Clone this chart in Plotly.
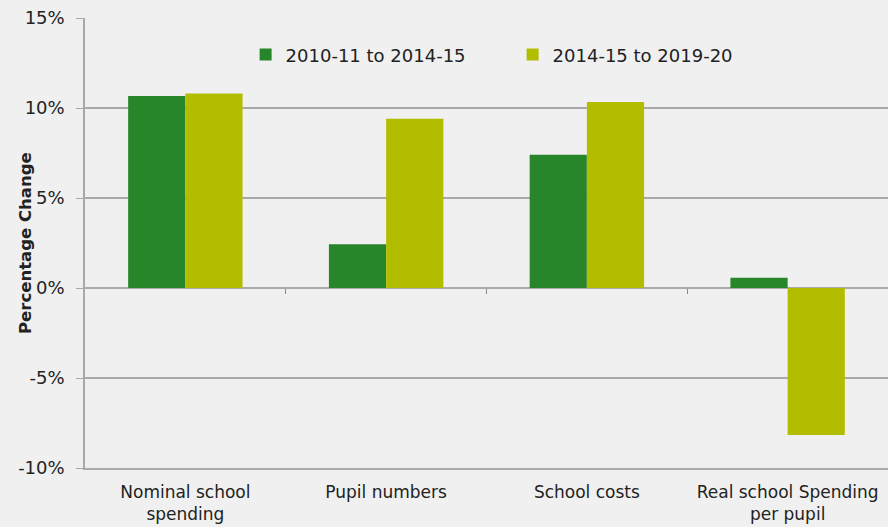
import plotly.graph_objects as go

categories = ["Nominal school<br>spending", "Pupil numbers", "School costs", "Real school Spending<br>per pupil"]
series_names = ["2010-11 to 2014-15", "2014-15 to 2019-20"]
values_2010_2015 = [10.67, 2.43, 7.4, 0.57]
values_2014_2020 = [10.8, 9.4, 10.33, -8.17]
y_ticks = [-10, -5, 0, 5, 10, 15]
y_tick_labels = ["-10%", "-5%", "0%", "5%", "10%", "15%"]
y_title = "Percentage Change"

colors = ["#27852a", "#b3bd00"]
FONT = "DejaVu Sans"
BG = "#f0f0f0"
GRID = "#a9a9a9"
TXT = "#222222"

fig = go.Figure()
fig.add_trace(go.Bar(x=list(range(len(categories))), y=values_2010_2015, name=series_names[0],
                     marker=dict(color=colors[0], line=dict(width=0))))
fig.add_trace(go.Bar(x=list(range(len(categories))), y=values_2014_2020, name=series_names[1],
                     marker=dict(color=colors[1], line=dict(width=0))))

n = len(categories)
L, R, T, B = 85, 0, 18, 59
W, H = 888, 527
fig.update_layout(
    width=W, height=H,
    paper_bgcolor=BG, plot_bgcolor=BG,
    margin=dict(l=L, r=R, t=T, b=B),
    barmode="group", bargap=0.43, bargroupgap=0,
    font=dict(family=FONT, size=17, color=TXT),
    showlegend=True,
    legend=dict(orientation="h", x=0.2, y=0.918, xanchor="left", yanchor="middle",
                bgcolor="rgba(0,0,0,0)", font=dict(size=18, color=TXT),
                entrywidth=222, itemwidth=30, traceorder="normal"),
    xaxis=dict(range=[-0.5, n - 0.5], tickvals=list(range(n)), ticktext=categories,
               showgrid=False, zeroline=False, showline=True, linecolor=GRID, linewidth=1.5,
               ticks="", automargin=False, ticklabelstandoff=8,
               tickfont=dict(size=17, color=TXT)),
    xaxis2=dict(overlaying="x", anchor="free", position=(0 - y_ticks[0]) / (y_ticks[-1] - y_ticks[0]),
                range=[-0.5, n - 0.5], tickvals=[i + 0.5 for i in range(n - 1)],
                showticklabels=False, ticks="outside", ticklen=5, tickwidth=1, tickcolor="#888888",
                showgrid=False, zeroline=False, showline=False, automargin=False),
    yaxis=dict(range=[y_ticks[0], y_ticks[-1]], tickvals=y_ticks, ticktext=y_tick_labels,
               showgrid=True, gridcolor=GRID, gridwidth=1.5,
               zeroline=True, zerolinecolor=GRID, zerolinewidth=1.5,
               showline=True, linecolor=GRID, linewidth=1.5,
               ticks="outside", ticklen=7, tickcolor=GRID, automargin=False,
               ticklabelstandoff=8,
               tickfont=dict(size=18, color=TXT)),
    annotations=[dict(text="<b>" + y_title + "</b>", xref="paper", yref="paper",
                      x=(25 - L) / (W - L - R), y=0.5, xanchor="center", yanchor="middle",
                      textangle=-90, showarrow=False, font=dict(size=16.5, color=TXT))],
)
fig.add_trace(go.Scatter(x=[-0.5], y=[0], xaxis="x2", mode="markers", marker=dict(opacity=0),
                         showlegend=False, hoverinfo="skip"))

fig.write_html("out.html", config={"displayModeBar": False},
               post_script="document.body.style.margin='0';document.body.style.background='%s';" % BG)
